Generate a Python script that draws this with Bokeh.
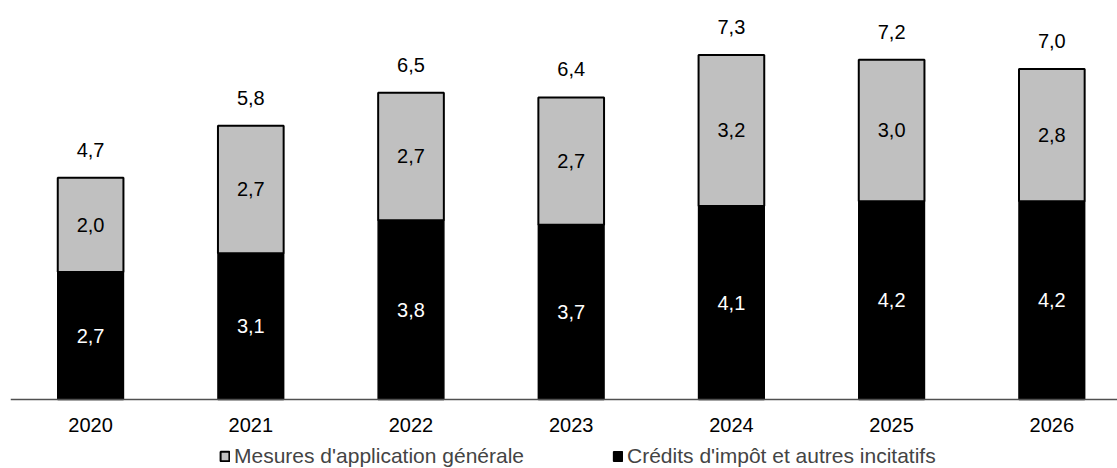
from bokeh.plotting import figure
from bokeh.models import ColumnDataSource, Range1d, FixedTicker, Legend, LegendItem, LabelSet, LinearAxis
from bokeh.core.properties import value
from bokeh.embed import file_html
from bokeh.resources import INLINE

years = ["2020", "2021", "2022", "2023", "2024", "2025", "2026"]
credits = [2.7, 3.1, 3.8, 3.7, 4.1, 4.2, 4.2]
mesures = [2.0, 2.7, 2.7, 2.7, 3.2, 3.0, 2.8]
totals = [4.7, 5.8, 6.5, 6.4, 7.3, 7.2, 7.0]
series_names = ["Mesures d'application générale", "Crédits d'impôt et autres incitatifs"]

def fmt(v):
    return f"{v:.1f}".replace(".", ",")

x = list(range(len(years)))
src = ColumnDataSource(dict(
    x=x,
    credits=credits,
    mesures=mesures,
    top_total=[c + m for c, m in zip(credits, mesures)],
    totals=totals,
    mid_c=[c / 2 for c in credits],
    mid_m=[c + m / 2 for c, m in zip(credits, mesures)],
    lab_c=[fmt(v) for v in credits],
    lab_m=[fmt(v) for v in mesures],
    lab_t=[fmt(v) for v in totals],
))

FONT = "Liberation Sans"

p = figure(width=1117, height=468, output_backend="svg", toolbar_location=None,
           x_range=Range1d(-0.5, 6.41), y_range=Range1d(-1.462, 8.453),
           x_axis_location=None, y_axis_location=None,
           min_border_left=10, min_border_right=0, min_border_top=0, min_border_bottom=0)
p.outline_line_color = None
p.grid.visible = False
p.background_fill_color = "white"

r_c = p.vbar(x="x", width=0.41, bottom=0, top="credits", source=src,
             fill_color="black", line_color="black", line_width=1.5)
r_m = p.vbar(x="x", width=0.41, bottom="credits", top="top_total", source=src,
             fill_color="#C0C0C0", line_color="black", line_width=2)

common = dict(source=src, text_align="center", text_font=value(FONT), text_font_size="20px")
p.add_layout(LabelSet(x="x", y="mid_c", text="lab_c", text_color="white",
                      text_baseline="middle", **common))
p.add_layout(LabelSet(x="x", y="mid_m", text="lab_m", text_color="black",
                      text_baseline="middle", **common))
p.add_layout(LabelSet(x="x", y="top_total", text="lab_t", text_color="black",
                      text_baseline="middle", y_offset=28, **common))

ax = LinearAxis(fixed_location=0)
ax.ticker = FixedTicker(ticks=x)
ax.major_label_overrides = {i: y for i, y in zip(x, years)}
ax.major_tick_line_color = None
ax.minor_tick_line_color = None
ax.axis_line_color = "#505050"
ax.axis_line_width = 1.5
ax.major_label_standoff = 13
ax.major_label_text_font = FONT
ax.major_label_text_font_size = "20px"
ax.major_label_text_color = "black"
p.add_layout(ax, "below")

legend = Legend(items=[LegendItem(label=series_names[0], renderers=[r_m]),
                       LegendItem(label=series_names[1], renderers=[r_c])],
                orientation="horizontal", location=(209, 0),
                glyph_width=11, glyph_height=12, spacing=88, padding=0, margin=0,
                label_standoff=4,
                label_text_font=FONT, label_text_font_size="21px",
                border_line_color=None, background_fill_alpha=0)
p.add_layout(legend)

open("out.html", "w").write(file_html(p, INLINE))
